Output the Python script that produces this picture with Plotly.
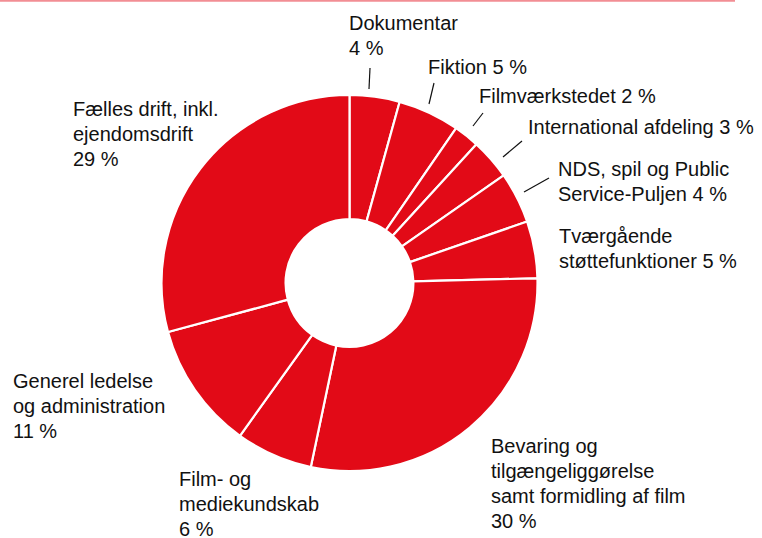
import plotly.graph_objects as go

# ---- data ----
categories = [
    "Dokumentar",
    "Fiktion",
    "Filmværkstedet",
    "International afdeling",
    "NDS, spil og Public Service-Puljen",
    "Tværgående støttefunktioner",
    "Bevaring og tilgængeliggørelse samt formidling af film",
    "Film- og mediekundskab",
    "Generel ledelse og administration",
    "Fælles drift, inkl. ejendomsdrift",
]
# slice sizes (percent)
shares = [4.3, 5.3, 2.2, 3.5, 4.4, 4.9, 28.7, 6.6, 10.9, 29.2]
# percentages as printed in the labels
printed_pct = [4, 5, 2, 3, 4, 5, 30, 6, 11, 29]

# label text layout (line breaks) per category
label_text = [
    "Dokumentar<br>{v} %",
    "Fiktion {v} %",
    "Filmværkstedet {v} %",
    "International afdeling {v} %",
    "NDS, spil og Public<br>Service-Puljen {v} %",
    "Tværgående<br>støttefunktioner {v} %",
    "Bevaring og<br>tilgængeliggørelse<br>samt formidling af film<br>{v} %",
    "Film- og<br>mediekundskab<br>{v} %",
    "Generel ledelse<br>og administration<br>{v} %",
    "Fælles drift, inkl.<br>ejendomsdrift<br>{v} %",
]

# ---- layout helpers (pixel positions) ----
W, H = 762, 538
RED = "#E20A17"
FONT = "Liberation Sans, Arial, sans-serif"
FS = 20
LINE_H = 25

def px(x):
    return x / W

def py(y):
    return 1 - y / H

# label top-left positions (cap-top pixel of first line)
label_pos = [
    (348, 17), (427, 61), (478, 90), (527, 121), (557, 163),
    (558, 230), (490, 440), (178, 473), (12, 375), (72, 103),
]
CAP_OFFSET = 6

# leader lines (pixel coords)
leaders = [
    ((370, 68), (369, 89)),
    ((434, 83), (429, 104)),
    ((483, 113), (473, 126)),
    ((522, 141), (503, 157)),
    ((549, 178), (524, 192)),
]

fig = go.Figure(
    go.Pie(
        labels=categories,
        values=shares,
        hole=0.34,
        sort=False,
        direction="clockwise",
        rotation=0,
        textinfo="none",
        marker=dict(colors=[RED] * len(shares), line=dict(color="white", width=2.2)),
        domain=dict(x=[px(161), px(538)], y=[py(471), py(95)]),
        showlegend=False,
        hoverinfo="label",
    )
)

annotations = []
for txt, v, (x, y) in zip(label_text, printed_pct, label_pos):
    for i, line in enumerate(txt.format(v=v).split("<br>")):
        annotations.append(
            dict(
                text=line,
                x=px(x), y=py(y - CAP_OFFSET + i * LINE_H),
                xref="paper", yref="paper",
                xanchor="left", yanchor="top",
                align="left", showarrow=False,
                font=dict(family=FONT, size=FS, color="#111111"),
                borderpad=0,
            )
        )

shapes = []
for (x0, y0), (x1, y1) in leaders:
    shapes.append(
        dict(type="line", xref="paper", yref="paper",
             x0=px(x0), y0=py(y0), x1=px(x1), y1=py(y1),
             line=dict(color="#111111", width=1.2))
    )
# thin top rule
shapes.append(
    dict(type="line", xref="paper", yref="paper",
         x0=0, y0=py(0.8), x1=px(735), y1=py(0.8),
         line=dict(color="#F28E94", width=2))
)

fig.update_layout(
    width=W, height=H,
    margin=dict(l=0, r=0, t=0, b=0),
    paper_bgcolor="white", plot_bgcolor="white",
    annotations=annotations,
    shapes=shapes,
)

fig.write_html(
    "out.html",
    config={"displayModeBar": False},
    post_script="document.body.style.margin='0px';document.body.style.padding='0px';",
)
